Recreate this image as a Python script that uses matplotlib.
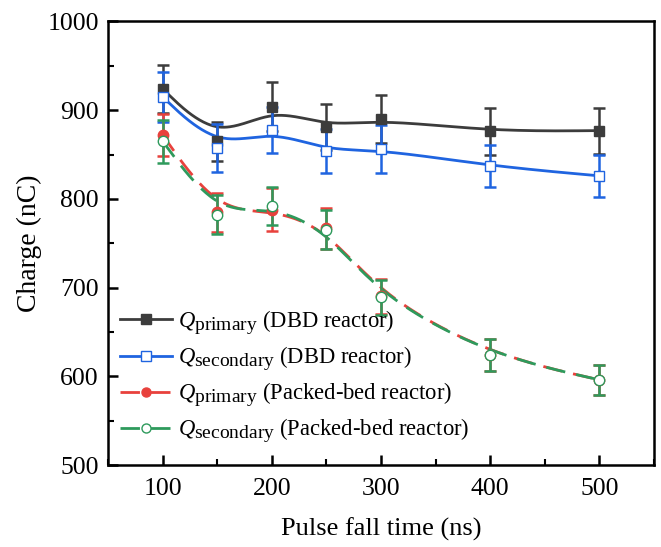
import numpy as np
import matplotlib
matplotlib.use("Agg")
import matplotlib.pyplot as plt
import matplotlib._mathtext as _mt
from matplotlib.lines import Line2D
from matplotlib.ticker import MultipleLocator

# Origin-style larger subscripts
_mt.SHRINK_FACTOR = 0.86

plt.rcParams['font.family'] = ['Liberation Serif', 'DejaVu Serif']
plt.rcParams['mathtext.fontset'] = 'custom'
plt.rcParams['mathtext.rm'] = 'Liberation Serif'
plt.rcParams['mathtext.it'] = 'Liberation Serif:italic'

# Data
fall_time = [100, 150, 200, 250, 300, 400, 500]
dbd_primary = [924, 865, 904, 881, 890, 876, 877]
dbd_primary_err = [27, 22, 28, 26, 27, 26, 26]
dbd_secondary = [915, 857, 878, 854, 856, 837, 826]
dbd_secondary_err = [28, 27, 26, 25, 27, 24, 24]
pb_primary = [872, 785, 788, 767, 690, 624, 596]
pb_primary_err = [24, 22, 24, 23, 20, 18, 17]
pb_secondary = [865, 782, 792, 765, 689, 624, 596]
pb_secondary_err = [24, 22, 21, 22, 20, 18, 17]

labels = [r'$Q_{\rm primary}$ (DBD reactor)',
          r'$Q_{\rm secondary}$ (DBD reactor)',
          r'$Q_{\rm primary}$ (Packed-bed reactor)',
          r'$Q_{\rm secondary}$ (Packed-bed reactor)']


def bspline(xs, ys, n=40):
    P = np.column_stack([xs, ys]).astype(float)
    P = np.vstack([P[0], P[0], P, P[-1], P[-1]])
    out = []
    t = np.linspace(0, 1, n)
    for i in range(len(P) - 3):
        p0, p1, p2, p3 = P[i], P[i + 1], P[i + 2], P[i + 3]
        b0 = (1 - t) ** 3 / 6
        b1 = (3 * t ** 3 - 6 * t ** 2 + 4) / 6
        b2 = (-3 * t ** 3 + 3 * t ** 2 + 3 * t + 1) / 6
        b3 = t ** 3 / 6
        seg = np.outer(b0, p0) + np.outer(b1, p1) + np.outer(b2, p2) + np.outer(b3, p3)
        out.append(seg)
    out = np.vstack(out)
    return out[:, 0], out[:, 1]


fig = plt.figure(figsize=(6.61, 5.47), dpi=100)
ax = fig.add_axes([0.1634, 0.1499, 0.826, 0.8108])

dash = (0, (7, 4))
series = [
    (dbd_primary, dbd_primary_err, '#3c3c3c', 's', '#3c3c3c', '-'),
    (dbd_secondary, dbd_secondary_err, '#1f64e0', 's', 'white', '-'),
    (pb_primary, pb_primary_err, '#e8413c', 'o', '#e8413c', dash),
    (pb_secondary, pb_secondary_err, '#2e9a5c', 'o', 'white', dash),
]

handles = []
for (vals, errs, col, mk, mfc, ls), lab in zip(series, labels):
    sx, sy = bspline(fall_time, vals)
    ax.plot(sx, sy, color=col, lw=2.0, ls=ls, zorder=2)
    ax.errorbar(fall_time, vals, yerr=errs, fmt='none', ecolor=col,
                elinewidth=1.8, capsize=4.5, capthick=1.8, zorder=3)
    ax.plot(fall_time, vals, ls='none', marker=mk, ms=7.5, mfc=mfc,
            mec=col, mew=1.0, zorder=4)
    handles.append(Line2D([], [], color=col, lw=2.0, ls=ls, marker=mk,
                          ms=6.5, mfc=mfc, mec=col, mew=1.0))

ax.set_xlim(50, 550)
ax.set_ylim(500, 1000)
ax.xaxis.set_major_locator(MultipleLocator(100))
ax.xaxis.set_minor_locator(MultipleLocator(50))
ax.yaxis.set_major_locator(MultipleLocator(100))
ax.yaxis.set_minor_locator(MultipleLocator(50))
ax.tick_params(which='major', direction='in', length=7, width=1.8,
               labelsize=18.5)
ax.tick_params(which='minor', direction='in', length=4, width=1.5)
ax.tick_params(axis='x', which='major', pad=9.5)
ax.tick_params(axis='y', which='major', pad=6.5)
for s in ax.spines.values():
    s.set_linewidth(1.8)

ax.set_xlabel('Pulse fall time (ns)', fontsize=19)
ax.set_ylabel('Charge (nC)', fontsize=20)
ax.xaxis.set_label_coords(0.5, -0.1196)
ax.yaxis.set_label_coords(-0.121, 0.5)

ax.legend(handles, labels, loc='lower left', bbox_to_anchor=(0.022, 0.045),
          frameon=False, fontsize=16.3, handlelength=2.3, handletextpad=0.27,
          labelspacing=0.36, borderaxespad=0.0, borderpad=0.0)

fig.savefig('out.png', dpi=100)
